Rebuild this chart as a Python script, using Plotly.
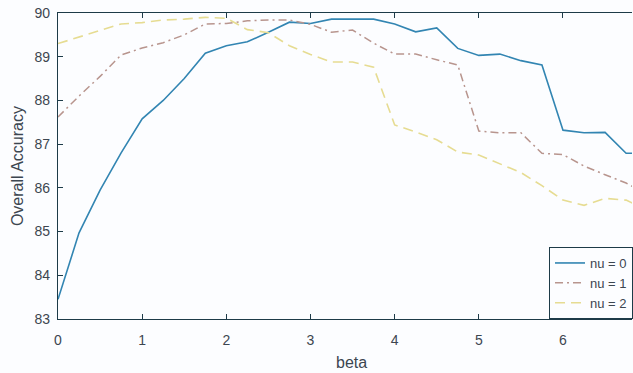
import plotly.graph_objects as go

beta = [0, 0.25, 0.5, 0.75, 1, 1.25, 1.5, 1.75, 2, 2.25, 2.5, 2.75, 3, 3.25, 3.5, 3.75,
        4, 4.25, 4.5, 4.75, 5, 5.25, 5.5, 5.75, 6, 6.25, 6.5, 6.75, 7]
acc_nu0 = [83.45, 84.97, 85.95, 86.8, 87.58, 88.0, 88.5, 89.08, 89.25, 89.34, 89.56, 89.79,
           89.76, 89.86, 89.86, 89.86, 89.75, 89.57, 89.66, 89.19, 89.03, 89.06, 88.91, 88.81,
           87.32, 87.26, 87.27, 86.79, 86.79]
acc_nu1 = [87.62, 88.1, 88.55, 89.04, 89.2, 89.32, 89.5, 89.75, 89.76, 89.82, 89.84, 89.84,
           89.74, 89.56, 89.61, 89.31, 89.06, 89.06, 88.93, 88.81, 87.3, 87.26, 87.26, 86.79,
           86.76, 86.5, 86.3, 86.11, 85.85]
acc_nu2 = [89.3, 89.45, 89.6, 89.75, 89.78, 89.84, 89.86, 89.9, 89.88, 89.62, 89.55, 89.25,
           89.05, 88.88, 88.88, 88.76, 87.44, 87.28, 87.1, 86.82, 86.75, 86.55, 86.35, 86.05,
           85.72, 85.6, 85.76, 85.72, 85.5]
series_names = ["nu = 0", "nu = 1", "nu = 2"]
x_ticks = [0, 1, 2, 3, 4, 5, 6]
y_ticks = [83, 84, 85, 86, 87, 88, 89, 90]

FONT = "Liberation Sans, Arial, sans-serif"
AX = "#1d3b48"
TXT = "#3c4650"
BG = "#fcfdff"

fig = go.Figure()
fig.add_trace(go.Scatter(x=beta, y=acc_nu0, name=series_names[0], mode="lines",
                         line=dict(color="#3285b2", width=1.6)))
fig.add_trace(go.Scatter(x=beta, y=acc_nu1, name=series_names[1], mode="lines",
                         line=dict(color="#b8958e", width=1.5, dash="8px,4px,2px,4px")))
fig.add_trace(go.Scatter(x=beta, y=acc_nu2, name=series_names[2], mode="lines",
                         line=dict(color="#e6dc92", width=1.6, dash="10px,6px")))

fig.update_layout(
    width=633, height=373,
    margin=dict(l=58, r=0, t=13, b=54),
    paper_bgcolor=BG, plot_bgcolor=BG,
    font=dict(family=FONT, size=14, color=TXT),
    showlegend=True,
    legend=dict(x=(550 - 58) / 575, y=(319 - 247) / 306, xanchor="left", yanchor="top",
                bgcolor=BG, bordercolor=AX, borderwidth=1,
                font=dict(family=FONT, size=13, color=TXT),
                tracegroupgap=0, itemwidth=30),
    xaxis=dict(range=[0, 6.82], tickvals=x_ticks, ticktext=[str(v) for v in x_ticks],
               showgrid=False, zeroline=False, showline=True, linecolor=AX, linewidth=1.2,
               mirror="ticks", ticks="inside", ticklen=5, tickcolor=AX,
               ticklabelstandoff=8,
               tickfont=dict(family=FONT, size=14, color=TXT)),
    yaxis=dict(range=[83, 90], tickvals=y_ticks, ticktext=[str(v) for v in y_ticks],
               showgrid=False, zeroline=False, showline=True, linecolor=AX, linewidth=1.2,
               mirror=False, ticks="inside", ticklen=5, tickcolor=AX,
               ticklabelstandoff=4,
               tickfont=dict(family=FONT, size=14, color=TXT)),
    annotations=[
        dict(text="beta", xref="paper", yref="paper", x=(352 - 58) / 575, y=-0.143,
             xanchor="center", yanchor="middle", showarrow=False,
             font=dict(family=FONT, size=16, color=TXT)),
        dict(text="Overall Accuracy", xref="paper", yref="paper", x=(17 - 58) / 575,
             y=0.5, xanchor="center", yanchor="middle", textangle=-90, showarrow=False,
             font=dict(family=FONT, size=16, color=TXT)),
    ],
)

fig.write_html("out.html", config={"displayModeBar": False},
               post_script="document.body.style.margin='0';document.body.style.overflow='hidden';")
